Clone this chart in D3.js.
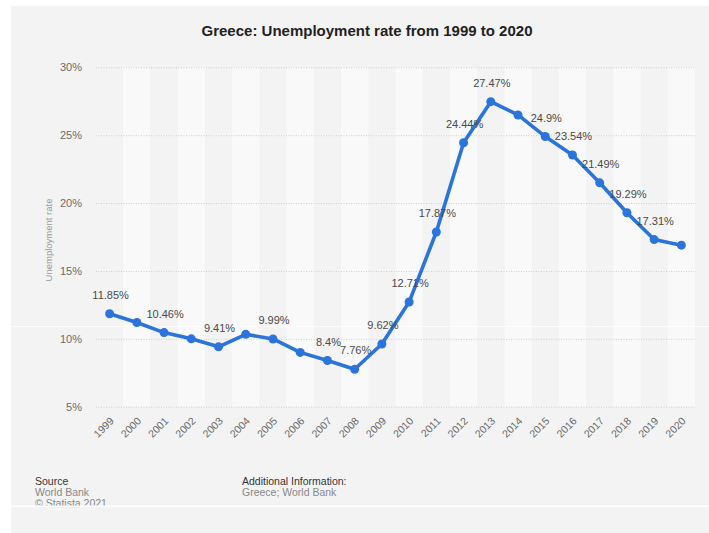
<!DOCTYPE html>
<html>
<head>
<meta charset="utf-8">
<script src="https://cdn.jsdelivr.net/npm/d3@7"></script>
<style>
  html, body { margin: 0; padding: 0; background: #ffffff; }
  svg { display: block; }
  text { font-family: "Liberation Sans", Arial, Helvetica, sans-serif; }
</style>
</head>
<body>
<svg id="chart" width="709" height="533"></svg>
<script>
// Greece unemployment rate, percent of labour force
const years = ["1999","2000","2001","2002","2003","2004","2005","2006","2007","2008","2009",
               "2010","2011","2012","2013","2014","2015","2016","2017","2018","2019","2020"];
const rates = [11.85, 11.2, 10.46, 10.0, 9.41, 10.33, 9.99, 9.0, 8.4, 7.76, 9.62,
               12.71, 17.87, 24.44, 27.47, 26.49, 24.9, 23.54, 21.49, 19.29, 17.31, 16.9];
// Years whose value is printed next to the marker
const labelledYears = ["1999","2001","2003","2005","2007","2008","2009","2010","2011",
                       "2012","2013","2015","2016","2017","2018","2019"];
const yTicks = [5, 10, 15, 20, 25, 30];

const svg = d3.select("#chart");
const W = 709, H = 533;

// panel background
svg.append("rect").attr("x", 11).attr("y", 6).attr("width", W - 11).attr("height", H - 6)
  .attr("fill", "#f3f3f3");

const plot = { left: 96, right: 695, top: 67.3, bottom: 406.7 };

const x = d3.scaleBand().domain(years).range([plot.left, plot.right]).padding(0);
const y = d3.scaleLinear().domain([5, 30]).range([plot.bottom, plot.top]);

// alternating column stripes
svg.append("g").selectAll("rect")
  .data(years.filter((d, i) => i % 2 === 1))
  .join("rect")
  .attr("x", d => x(d)).attr("y", plot.top)
  .attr("width", x.bandwidth()).attr("height", plot.bottom - plot.top)
  .attr("fill", "#f9f9f9");

// thin light seam across the panel
svg.append("rect").attr("x", 11).attr("y", 326).attr("width", W - 11).attr("height", 1)
  .attr("fill", "#ffffff").attr("opacity", 0.7);

// y axis with dotted gridlines
const yAxis = d3.axisLeft(y).tickValues(yTicks).tickFormat(d => d + "%")
  .tickSize(-(plot.right - plot.left)).tickPadding(14);
const gy = svg.append("g").attr("transform", `translate(${plot.left},0)`).call(yAxis);
gy.select(".domain").remove();
gy.selectAll(".tick line").attr("stroke", "#d0d0d0").attr("stroke-dasharray", "1,1.5");
gy.selectAll(".tick text").attr("fill", "#6a6a6a").attr("font-size", 11)
  .attr("font-family", "Liberation Sans, Arial, sans-serif");

// y axis title
svg.append("text")
  .attr("transform", `translate(52,${(plot.top + plot.bottom) / 2 + 3}) rotate(-90)`)
  .attr("text-anchor", "middle").attr("fill", "#999").attr("font-size", 9.5)
  .text("Unemployment rate");

// x axis, rotated year labels
const xAxis = d3.axisBottom(x).tickSize(0).tickPadding(0);
const gx = svg.append("g").attr("transform", `translate(0,${plot.bottom})`).call(xAxis);
gx.select(".domain").remove();
gx.selectAll(".tick text")
  .attr("fill", "#6a6a6a").attr("font-size", 10.5)
  .attr("font-family", "Liberation Sans, Arial, sans-serif")
  .attr("text-anchor", "end")
  .attr("dy", null)
  .attr("transform", "translate(5,15) rotate(-45)");

// line
const pts = years.map((yr, i) => ({ year: yr, value: rates[i] }));
const line = d3.line().x(d => x(d.year) + x.bandwidth() / 2).y(d => y(d.value));
svg.append("path").datum(pts)
  .attr("d", line).attr("fill", "none")
  .attr("stroke", "#2a74db").attr("stroke-width", 3.6)
  .attr("stroke-linejoin", "round").attr("stroke-linecap", "round");

svg.append("g").selectAll("circle").data(pts).join("circle")
  .attr("cx", d => x(d.year) + x.bandwidth() / 2)
  .attr("cy", d => y(d.value))
  .attr("r", 4.5).attr("fill", "#2a74db");

// value labels
svg.append("g").selectAll("text")
  .data(pts.filter(d => labelledYears.includes(d.year)))
  .join("text")
  .attr("x", d => x(d.year) + x.bandwidth() / 2 + 1)
  .attr("y", d => y(d.value) - 15)
  .attr("text-anchor", "middle").attr("fill", "#4a4a4a").attr("font-size", 11)
  .text(d => d.value + "%");

// title
svg.append("text").attr("x", 367).attr("y", 36).attr("text-anchor", "middle")
  .attr("font-size", 15).attr("font-weight", "bold").attr("fill", "#222")
  .text("Greece: Unemployment rate from 1999 to 2020");

// footer
const foot = svg.append("g").attr("font-size", 10.5);
foot.append("text").attr("x", 35).attr("y", 485).attr("fill", "#333").text("Source");
foot.append("text").attr("x", 35).attr("y", 496).attr("fill", "#888").text("World Bank");
foot.append("text").attr("x", 35).attr("y", 507).attr("fill", "#888").text("© Statista 2021");
foot.append("text").attr("x", 242).attr("y", 485).attr("fill", "#333").text("Additional Information:");
foot.append("text").attr("x", 242).attr("y", 496).attr("fill", "#888").text("Greece; World Bank");

// bottom strip
svg.append("rect").attr("x", 11).attr("y", 505.5).attr("width", W - 11).attr("height", 1.5).attr("fill", "#ffffff");
svg.append("rect").attr("x", 11).attr("y", 507).attr("width", W - 11).attr("height", H - 507).attr("fill", "#f3f3f3");
</script>
</body>
</html>
